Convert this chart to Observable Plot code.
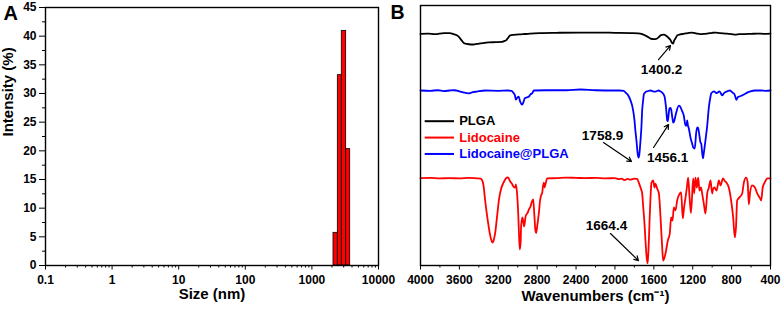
<!DOCTYPE html>
<html><head><meta charset="utf-8">
<script src="https://cdn.jsdelivr.net/npm/d3@7"></script>
<script src="https://cdn.jsdelivr.net/npm/@observablehq/plot@0.6"></script>
<style>
body{margin:0;background:#fff;}
#wrap{position:relative;width:782px;height:310px;overflow:hidden;background:#fff;}
#wrap svg{position:absolute;top:0;}
</style></head><body><div id="wrap"></div>
<script>
// ---------- Panel A: size distribution ----------
const sizeBinStart = [2110, 2450, 2810, 3270];
const sizeBinEnd   = [2450, 2810, 3270, 3760];
const intensity    = [5.7, 33.2, 40.9, 20.3];
const sizeTicks = [0.1, 1, 10, 100, 1000, 10000];
const intensityTicks = [0, 5, 10, 15, 20, 25, 30, 35, 40, 45];

// ---------- Panel B: FTIR spectra ----------
const seriesNames  = ["PLGA", "Lidocaine", "Lidocaine@PLGA"];
const seriesColors = ["#000000", "#ff0000", "#0000ff"];
const wavenumberTicks = [4000, 3600, 3200, 2800, 2400, 2000, 1600, 1200, 800, 400];

// [wavenumber (cm-1), transmittance (a.u.)]
const plgaSpectrum = [
  [4000,89.1],[3920,89.2],[3850,89.0],[3760,89.4],[3700,89.4],[3660,89.0],[3610,88.1],[3575,86.5],
  [3555,85.6],[3525,85.2],[3480,85.0],[3455,85.0],[3420,85.2],[3386,85.4],[3340,85.6],[3300,85.8],
  [3230,85.9],[3165,86.0],[3140,86.3],[3120,86.6],[3100,87.5],[3077,88.5],[3040,88.7],[3010,88.8],
  [2950,89.0],[2890,89.1],[2870,89.2],[2750,89.4],[2600,89.5],[2354,89.6],[2200,89.6],[2000,89.5],
  [1840,89.4],[1760,89.3],[1720,89.0],[1690,88.5],[1655,87.8],[1634,87.3],[1600,87.1],[1583,87.1],
  [1550,87.8],[1531,88.5],[1500,88.8],[1470,88.3],[1450,87.6],[1430,86.8],[1411,85.5],[1401,85.3],
  [1394,86.2],[1375,87.5],[1360,88.5],[1330,88.9],[1295,89.1],[1250,89.4],[1206,89.6],[1160,89.2],
  [1120,89.0],[1080,89.1],[1051,89.2],[1000,89.5],[966,89.6],[920,89.4],[846,89.2],[790,88.9],
  [760,88.8],[720,89.0],[674,89.0],[600,89.1],[537,89.2],[470,89.1],[400,89.2]
];
const lidocaineSpectrum = [
  [4000,33.6],[3900,33.7],[3800,33.5],[3700,33.6],[3600,33.5],[3500,33.7],[3420,33.5],[3383,33.4],
  [3369,33.0],[3352,30.8],[3335,25.0],[3308,17.3],[3283,11.5],[3266,9.2],[3259,8.8],[3245,10.0],
  [3230,13.0],[3215,18.0],[3191,25.8],[3170,29.6],[3146,31.9],[3112,33.8],[3100,33.9],[3080,32.5],
  [3061,31.5],[3040,30.2],[3033,30.0],[3023,30.3],[3019,31.2],[3005,26.9],[2995,20.0],[2987,12.0],
  [2979,6.2],[2970,9.0],[2965,15.4],[2951,18.5],[2935,15.0],[2917,19.2],[2896,20.4],[2886,21.5],
  [2870,22.5],[2855,24.5],[2841,25.4],[2830,20.0],[2818,13.5],[2810,12.5],[2800,15.0],[2783,20.0],
  [2770,25.0],[2759,27.0],[2748,28.0],[2740,30.5],[2731,31.9],[2725,30.0],[2715,31.2],[2697,33.5],
  [2600,33.6],[2500,33.8],[2400,33.7],[2300,33.6],[2200,33.7],[2100,33.5],[2000,33.6],[1960,33.2],
  [1930,33.4],[1900,32.8],[1870,33.3],[1840,33.0],[1800,33.4],[1772,33.3],[1755,31.9],[1737,30.0],
  [1720,27.7],[1710,23.0],[1696,16.0],[1685,9.0],[1675,3.5],[1664,0.8],[1655,6.0],[1641,20.0],
  [1624,31.9],[1607,32.7],[1593,30.0],[1583,31.5],[1566,29.6],[1548,27.7],[1531,18.5],[1514,6.9],
  [1504,1.9],[1495,2.5],[1480,4.6],[1456,9.6],[1436,12.3],[1422,18.5],[1408,17.3],[1394,22.3],
  [1377,21.2],[1360,25.0],[1333,27.7],[1319,28.1],[1302,18.1],[1290,22.0],[1274,26.2],[1260,30.0],
  [1247,33.8],[1232,26.0],[1218,20.2],[1195,33.5],[1185,27.7],[1172,33.8],[1158,30.0],[1144,33.8],
  [1130,28.8],[1115,30.0],[1100,27.0],[1086,23.8],[1069,20.0],[1051,27.7],[1034,30.0],[1017,32.7],
  [1000,27.7],[990,29.5],[976,30.0],[955,28.8],[931,32.7],[914,30.8],[888,33.5],[870,32.5],
  [853,31.9],[829,30.0],[805,25.0],[784,18.5],[767,10.8],[755,14.6],[743,25.0],[719,26.2],
  [691,27.7],[674,31.9],[651,33.8],[635,32.0],[623,23.5],[610,28.0],[590,30.8],[560,30.0],
  [537,27.7],[510,26.0],[496,25.0],[480,30.0],[460,31.9],[430,33.5],[400,33.5]
];
const lidocainePlgaSpectrum = [
  [4000,67.3],[3900,67.2],[3820,67.4],[3760,67.1],[3700,67.3],[3650,67.4],[3600,67.0],[3560,66.6],
  [3506,66.2],[3470,66.6],[3420,66.9],[3335,67.3],[3200,67.2],[3100,67.3],[3064,67.2],[3050,66.7],
  [3030,65.6],[3019,63.8],[3005,64.6],[2990,64.9],[2975,63.0],[2955,61.9],[2945,62.5],[2925,64.4],
  [2903,64.7],[2885,65.0],[2869,65.8],[2850,66.3],[2834,67.3],[2700,67.4],[2500,67.4],[2354,67.7],
  [2200,67.4],[2000,67.3],[1950,67.3],[1909,67.2],[1891,66.5],[1870,65.8],[1857,65.0],[1840,63.5],
  [1823,61.5],[1810,59.0],[1799,55.8],[1790,52.0],[1779,48.1],[1765,42.7],[1757,41.5],[1750,42.5],
  [1737,48.1],[1728,53.0],[1720,59.6],[1710,63.5],[1703,65.8],[1690,66.5],[1679,66.9],[1668,67.0],
  [1634,67.3],[1610,67.0],[1583,66.9],[1549,67.3],[1530,66.9],[1514,66.5],[1490,65.0],[1475,61.0],
  [1462,55.8],[1456,55.5],[1448,58.0],[1439,60.4],[1428,60.6],[1422,60.0],[1408,56.5],[1401,55.0],
  [1394,55.2],[1375,58.0],[1343,61.5],[1333,61.3],[1310,59.5],[1292,57.7],[1274,53.8],[1264,53.8],
  [1257,55.8],[1250,54.0],[1240,52.7],[1223,49.2],[1206,46.9],[1195,45.4],[1179,45.0],[1165,50.8],
  [1154,53.1],[1145,53.0],[1137,51.5],[1120,47.3],[1113,46.9],[1095,41.2],[1085,43.5],[1069,48.1],
  [1051,53.8],[1034,60.8],[1017,65.0],[1010,66.2],[983,67.0],[955,66.3],[924,67.0],[897,65.4],
  [880,66.2],[863,66.7],[840,67.1],[818,67.3],[790,66.5],[770,65.8],[750,63.7],[738,64.7],
  [727,64.9],[700,65.3],[674,65.8],[640,66.5],[606,67.0],[560,67.3],[500,67.3],[450,67.2],[400,67.3]
];

// peak annotations (data units)
const peakLabels   = ["1400.2", "1758.9", "1456.1", "1664.4"];
const labelWn      = [1521, 2128, 1459, 2087];
const labelT       = [75.4, 50.0, 41.5, 15.4];
const arrowFromWn  = [1552, 2118, 1603, 2046];
const arrowFromT   = [79.2, 47.3, 45.4, 12.3];
const arrowToWn    = [1429, 1830, 1449, 1758];
const arrowToT     = [84.6, 40.0, 54.2, 1.9];

// ---------- build ----------
const font = "'Liberation Sans', Arial, Helvetica, sans-serif";
const baseStyle = {fontFamily: font, fontWeight: "bold", fontSize: "12px", background: "transparent", overflow: "visible", color: "#000"};

const bars = sizeBinStart.map((x1, i) => ({x1, x2: sizeBinEnd[i], y: intensity[i]}));
const sizeMinor = [];
for (let k = -1; k <= 3; k++) for (let m = 2; m <= 9; m++) sizeMinor.push(+(m * Math.pow(10, k)).toPrecision(3));
const intensityMinor = intensityTicks.slice(0, -1).map(v => v + 2.5);

const plotA = Plot.plot({
  width: 400, height: 310,
  marginLeft: 45, marginRight: 22, marginTop: 7, marginBottom: 45,
  style: baseStyle,
  x: {type: "log", domain: [0.1, 10000]},
  y: {domain: [0, 45]},
  marks: [
    Plot.rectY(bars, {x1: "x1", x2: "x2", y: "y", fill: "#ff0000", stroke: "#000", strokeWidth: 0.8}),
    Plot.frame({stroke: "#000", strokeWidth: 1.4}),
    Plot.axisX({ticks: sizeTicks, tickSize: 4.5, tickPadding: 5, tickFormat: d => String(d), label: null}),
    Plot.axisX({ticks: sizeMinor, tickSize: 2.5, tickFormat: () => "", label: null}),
    Plot.axisY({ticks: intensityTicks, tickSize: 6, tickPadding: 3, tickFormat: d => String(d), label: null}),
    Plot.axisY({ticks: intensityMinor, tickSize: 3, tickFormat: () => "", label: null}),
    Plot.text(["Size (nm)"], {text: d => d, frameAnchor: "bottom", dy: 33, fontSize: 15}),
    Plot.text(["Intensity (%)"], {text: d => d, frameAnchor: "left", dx: -37, rotate: -90, fontSize: 15}),
    Plot.text(["A"], {text: d => d, frameAnchor: "top-left", dx: -42, dy: -2, textAnchor: "start", lineAnchor: "top", fontSize: 20})
  ]
});

const spectra = [plgaSpectrum, lidocaineSpectrum, lidocainePlgaSpectrum];
const lineData = seriesNames.flatMap((name, i) => spectra[i].map(([wn, t]) => ({name, wn, t})));
const wnMinor = wavenumberTicks.slice(0, -1).map(v => v - 200);
const annotations = peakLabels.map((label, i) => ({
  label, lx: labelWn[i], ly: labelT[i],
  x1: arrowFromWn[i], y1: arrowFromT[i], x2: arrowToWn[i], y2: arrowToT[i]
}));
const legendTop = 55.5, legendStep = 6.3;
const legendX1 = 3952, legendX2 = 3650, legendTextX = 3602;
const legend = seriesNames.map((name, i) => ({name, ly: legendTop - i * legendStep}));

const plotB = Plot.plot({
  width: 397, height: 310,
  marginLeft: 35, marginRight: 12, marginTop: 5, marginBottom: 45,
  style: baseStyle,
  x: {domain: [4000, 400]},
  y: {domain: [0, 100], axis: null},
  color: {domain: seriesNames, range: seriesColors},
  marks: [
    Plot.line(lineData, {x: "wn", y: "t", z: "name", stroke: "name", strokeWidth: 1.8, curve: "monotone-x"}),
    Plot.frame({stroke: "#000", strokeWidth: 1.4}),
    Plot.axisX({ticks: wavenumberTicks, tickSize: 4.5, tickPadding: 5, tickFormat: d => String(d), label: null}),
    Plot.axisX({ticks: wnMinor, tickSize: 2.5, tickFormat: () => "", label: null}),
    Plot.arrow(annotations, {x1: "x1", y1: "y1", x2: "x2", y2: "y2", stroke: "#000", strokeWidth: 1.2, headLength: 6}),
    Plot.text(annotations, {x: "lx", y: "ly", text: "label", fontSize: 13.5}),
    Plot.ruleY(legend, {y: "ly", x1: () => legendX1, x2: () => legendX2, stroke: "name", strokeWidth: 2}),
    Plot.text(legend, {x: () => legendTextX, y: "ly", text: "name", fill: "name", textAnchor: "start", fontSize: 13}),
    Plot.text(["Wavenumbers (cm⁻¹)"], {text: d => d, frameAnchor: "bottom", dy: 35, fontSize: 15}),
    Plot.text(["B"], {text: d => d, frameAnchor: "top-left", dx: -30, dy: 0, textAnchor: "start", lineAnchor: "top", fontSize: 19.5})
  ]
});

const wrap = document.getElementById("wrap");
plotA.style.position = "absolute"; plotA.style.left = "0px"; plotA.style.top = "0px";
plotB.style.position = "absolute"; plotB.style.left = "385px"; plotB.style.top = "0px";
wrap.appendChild(plotA);
wrap.appendChild(plotB);
</script>
</body></html>
